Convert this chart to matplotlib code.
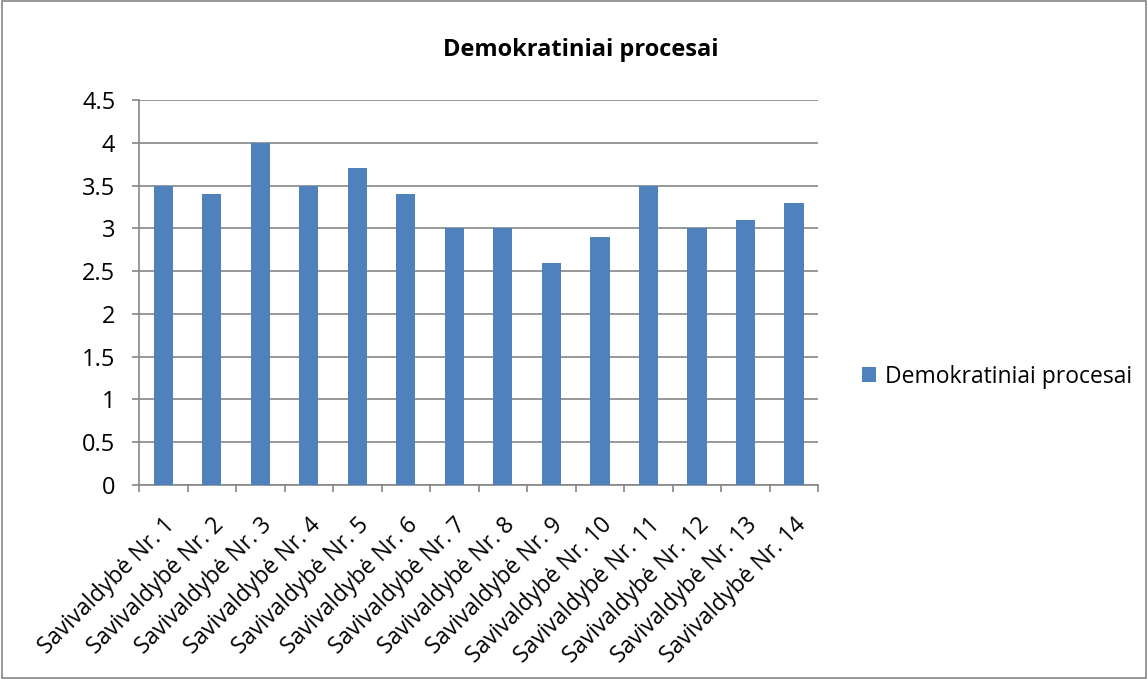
import numpy as np
import matplotlib.pyplot as plt
from matplotlib.patches import Rectangle

plt.rcParams['font.family'] = ['Open Sans', 'DejaVu Sans']

# duomenys
categories = ['Savivaldybė Nr. %d' % i for i in range(1, 15)]
values = [3.5, 3.4, 4.0, 3.5, 3.7, 3.4, 3.0, 3.0, 2.6, 2.9, 3.5, 3.0, 3.1, 3.3]
series_name = 'Demokratiniai procesai'

fig = plt.figure(figsize=(11.48, 6.79), dpi=100)
ax = fig.add_axes([0.1211, 0.2857, 0.5915, 0.567])

x = np.arange(len(categories))
ax.bar(x, values, width=0.4, color='#4F81BD', label=series_name, zorder=3)

ax.set_xlim(-0.5, len(categories) - 0.5)
ax.set_ylim(0, 4.5)
ax.set_yticks(np.arange(0, 4.51, 0.5))
ax.set_yticklabels(['0', '0.5', '1', '1.5', '2', '2.5', '3', '3.5', '4', '4.5'])
ax.grid(axis='y', color='#868686', linewidth=1.2, zorder=0)

ax.set_xticks(x)
ax.set_xticklabels(categories, rotation=45, ha='right', rotation_mode='anchor', fontsize=16.5)
ax.tick_params(axis='x', which='major', length=0, pad=20)
ax.set_xticks(np.arange(-0.5, len(categories), 1), minor=True)
ax.tick_params(axis='x', which='minor', length=5, color='#868686', width=1.2)
ax.tick_params(axis='y', length=5, color='#868686', width=1.2, labelsize=17, pad=12)

for s in ['top', 'right']:
    ax.spines[s].set_visible(False)
for s in ['left', 'bottom']:
    ax.spines[s].set_color('#868686')
    ax.spines[s].set_linewidth(1.2)

fig.text(0.506, 0.927, series_name, ha='center', va='center', fontsize=17, fontweight='bold')

fig.legend(loc='center left', bbox_to_anchor=(0.733, 0.445), frameon=False,
           fontsize=16.5, handlelength=0.6, handleheight=0.6, handletextpad=0.4)

# rėmelis aplink paveikslą
fig.patches.append(Rectangle((0.002, 0.002), 0.996, 0.996, transform=fig.transFigure,
                             fill=False, edgecolor='#868686', linewidth=1.2))

plt.savefig('out.png', dpi=100)
